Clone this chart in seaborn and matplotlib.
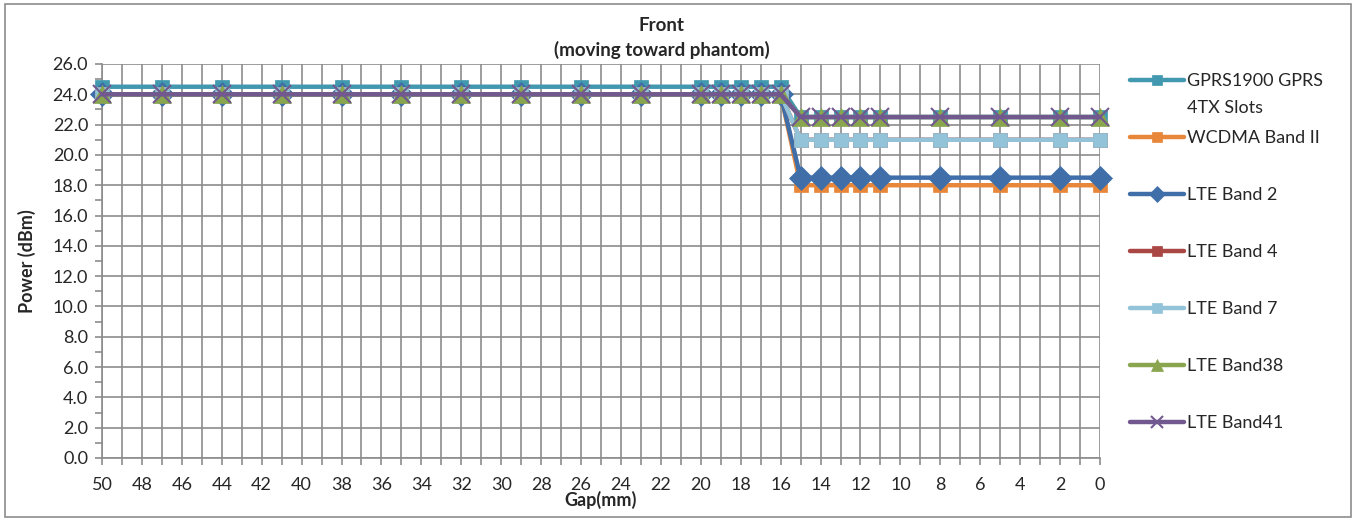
####
#imports
####

import numpy as np
import pandas as pd
import matplotlib.pyplot as plt
import matplotlib.patches as mpatches
from matplotlib.ticker import MultipleLocator, FormatStrFormatter
import seaborn as sns

####
#data
####

gap_mm = [50, 47, 44, 41, 38, 35, 32, 29, 26, 23, 20, 19, 18, 17, 16,
          15, 14, 13, 12, 11, 8, 5, 2, 0]
gprs1900 = [24.5] * 15 + [22.5] * 9
wcdma_b2 = [24.0] * 15 + [18.0] * 9
lte_b2 = [24.0] * 15 + [18.5] * 9
lte_b4 = [24.0] * 15 + [21.0] * 9
lte_b7 = [24.0] * 15 + [21.0] * 9
lte_b38 = [24.0] * 15 + [22.5] * 9
lte_b41 = [24.0] * 15 + [22.5] * 9

series_names = ["GPRS1900 GPRS", "WCDMA Band II", "LTE Band 2",
                "LTE Band 4", "LTE Band 7", "LTE Band38", "LTE Band41"]
first_label_wrap = "4TX Slots"
series_values = [gprs1900, wcdma_b2, lte_b2, lte_b4, lte_b7, lte_b38, lte_b41]

colors = ["#4198AF", "#E8873A", "#3F6EA8", "#AA4643", "#93C3D8", "#89A54E", "#71588F"]
markers = ["s", "s", "D", "s", "s", "^", "x"]
msizes = [10.5, 10.5, 12, 10.5, 10.5, 13, 12.5]

FS = 13

####
#plot
####

def build_frame():
    rows = []
    for name, vals in zip(series_names, series_values):
        for g, v in zip(gap_mm, vals):
            rows.append({"Gap": g, "Power": v, "Series": name})
    return pd.DataFrame(rows)


def main():
    sns.set_style("white")
    plt.rcParams['font.family'] = ['Lato', 'DejaVu Sans']
    df = build_frame()

    fig = plt.figure(figsize=(13.56, 5.21), dpi=100)
    ax = fig.add_axes([102 / 1356, 1 - 458 / 521, 998 / 1356, 394 / 521])

    for name, col, mk, ms in zip(series_names, colors, markers, msizes):
        sub = df[df["Series"] == name]
        sns.lineplot(data=sub, x="Gap", y="Power", ax=ax, color=col, lw=3.2,
                     marker=mk, markersize=ms, markeredgecolor=col,
                     markeredgewidth=1.5 if mk == "x" else 0.5,
                     label=name, clip_on=False, zorder=3)

    ax.set_xlim(50, 0)
    ax.set_ylim(0, 26)
    ax.xaxis.set_major_locator(MultipleLocator(2))
    ax.xaxis.set_minor_locator(MultipleLocator(1))
    ax.yaxis.set_major_locator(MultipleLocator(2))
    ax.yaxis.set_minor_locator(MultipleLocator(1))
    ax.yaxis.set_major_formatter(FormatStrFormatter("%.1f"))
    ax.grid(True, which="major", axis="y", color="#8C8C8C", lw=1.2)
    ax.grid(True, which="both", axis="x", color="#8C8C8C", lw=1.2)
    ax.set_axisbelow(True)
    ax.tick_params(axis="both", which="both", direction="out", color="#8C8C8C",
                   length=5, width=1.2, labelsize=FS)
    ax.tick_params(axis="x", which="both", bottom=True, pad=9)
    ax.tick_params(axis="y", which="both", left=True, pad=5)
    for s in ["top", "right"]:
        ax.spines[s].set_visible(False)
    for s in ["left", "bottom"]:
        ax.spines[s].set_color("#8C8C8C")
        ax.spines[s].set_linewidth(1.2)

    ax.set_xlabel("Gap(mm)", fontsize=FS, fontweight="bold", labelpad=-2)
    ax.set_ylabel("Power (dBm)", fontsize=FS, fontweight="bold", labelpad=12)
    fig.text(662 / 1356, 1 - 38 / 521, "Front\n(moving toward phantom)",
             ha="center", va="center", fontsize=FS + 0.5, fontweight="bold", linespacing=1.4)

    leg = ax.legend(loc="upper left", bbox_to_anchor=(1.023, 1.0 - 0.005), frameon=False,
                    fontsize=FS, labelspacing=2.27, handlelength=3.0, handletextpad=0.15,
                    borderaxespad=0, markerscale=0.7)

    # second line of the first legend entry, as Excel wraps it
    fig.canvas.draw()
    bb = leg.get_texts()[0].get_window_extent()
    fig.text(bb.x0 / 1356, (bb.y0 - 27) / 521, first_label_wrap, fontsize=FS,
             ha="left", va="bottom")

    fig.patches.append(mpatches.Rectangle((5 / 1356, 4 / 521), 1346 / 1356, 513 / 521,
                                          transform=fig.transFigure, fill=False,
                                          edgecolor="#8C8C8C", lw=1.2))
    fig.savefig("out.png", dpi=100)
    plt.close()


if __name__ == '__main__':
    main()
